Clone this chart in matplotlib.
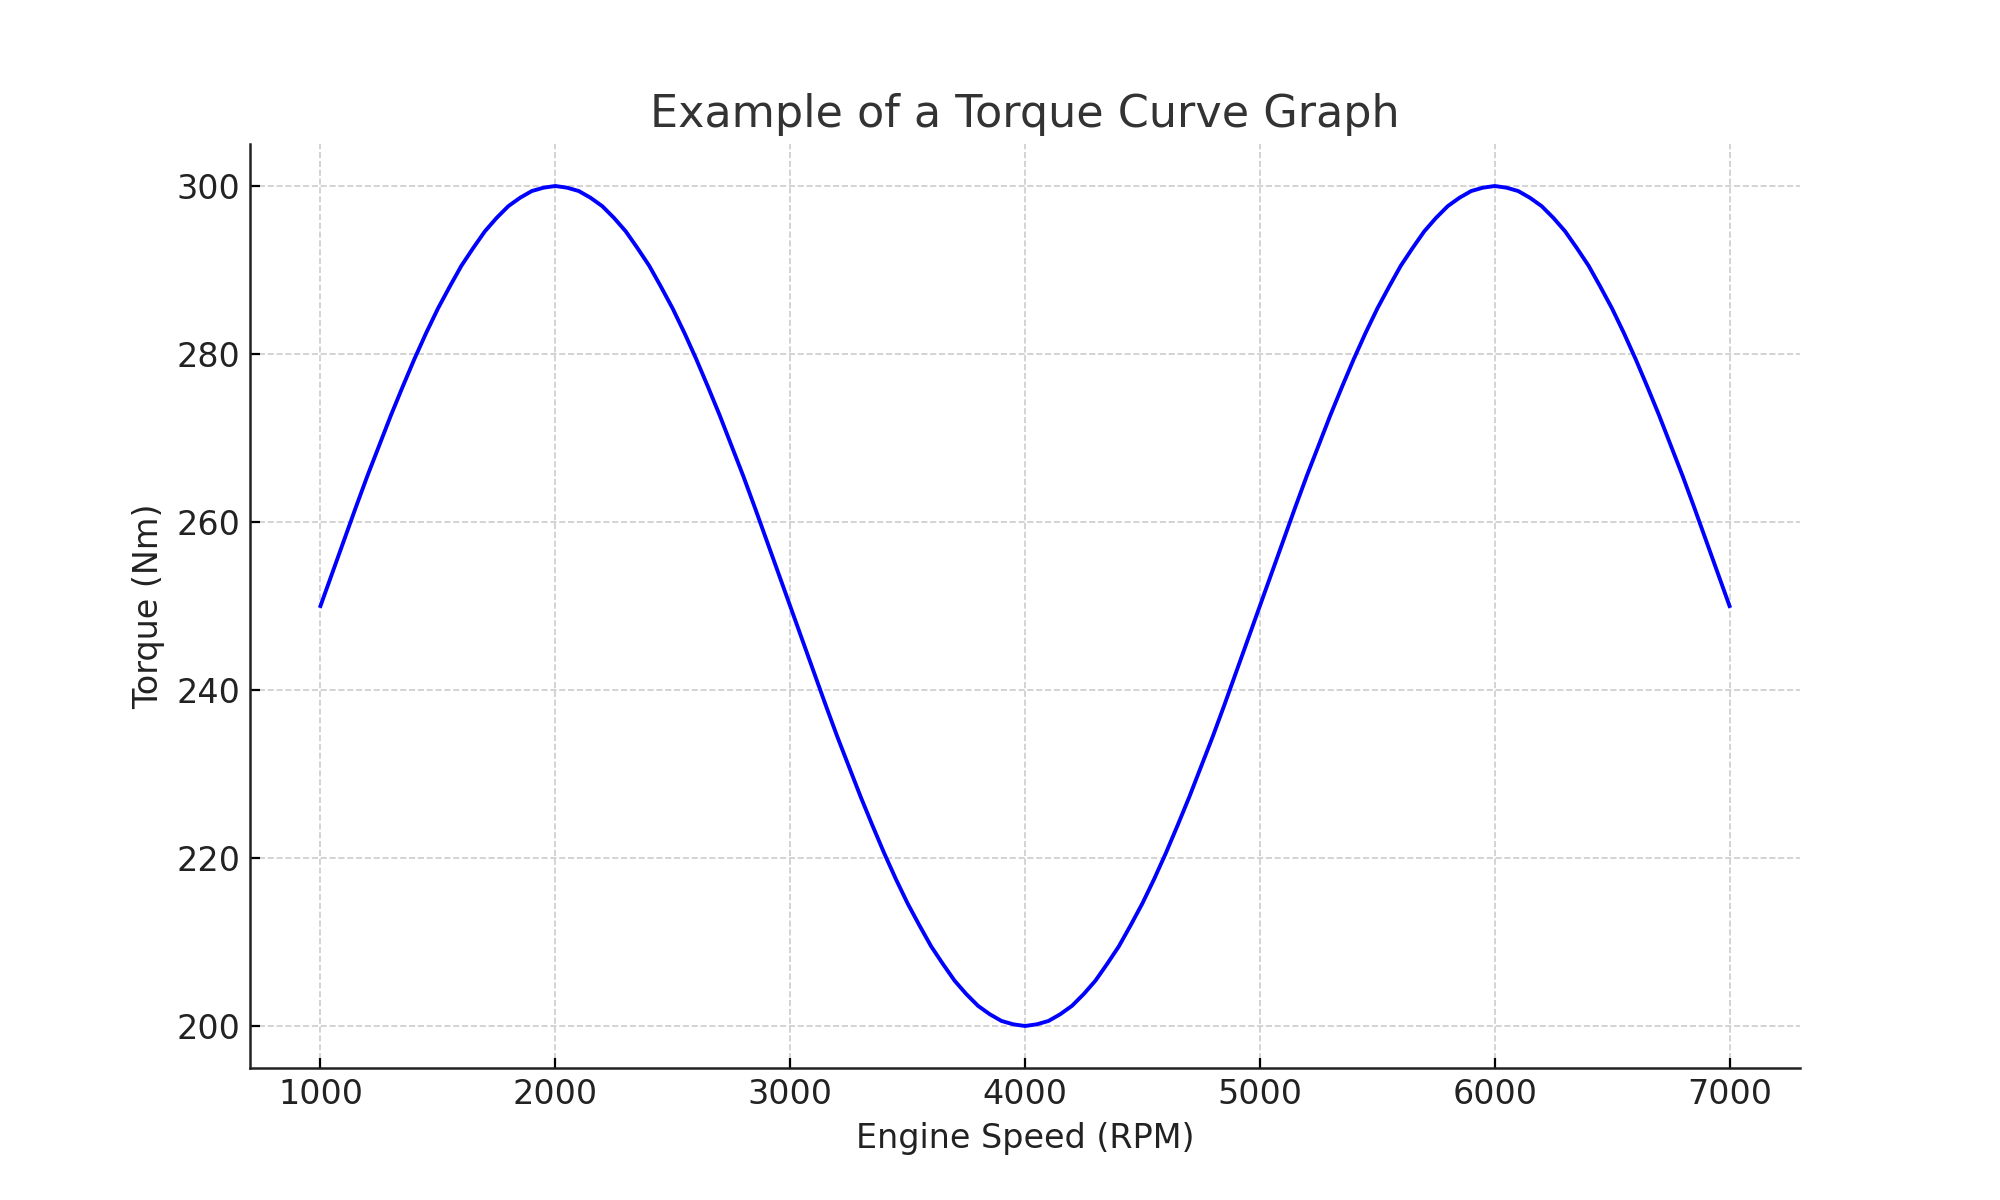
import matplotlib
matplotlib.use("Agg")
import matplotlib.pyplot as plt

# Engine speed (RPM), sampled every 50 RPM along the curve
rpm = list(range(1000, 7001, 50))

# Torque (Nm)
torque = [
    # 1000 - 2000
    250.0, 253.9, 257.8, 261.7, 265.5, 269.1, 272.7, 276.1, 279.4, 282.5,
    285.4, 288.0, 290.5, 292.6, 294.6, 296.2, 297.6, 298.6, 299.4, 299.8,
    300.0,
    # 2050 - 3000
    299.8, 299.4, 298.6, 297.6, 296.2, 294.6, 292.6, 290.5, 288.0, 285.4,
    282.5, 279.4, 276.1, 272.7, 269.1, 265.5, 261.7, 257.8, 253.9, 250.0,
    # 3050 - 4000
    246.1, 242.2, 238.3, 234.5, 230.9, 227.3, 223.9, 220.6, 217.5, 214.6,
    212.0, 209.5, 207.4, 205.4, 203.8, 202.4, 201.4, 200.6, 200.2, 200.0,
    # 4050 - 5000
    200.2, 200.6, 201.4, 202.4, 203.8, 205.4, 207.4, 209.5, 212.0, 214.6,
    217.5, 220.6, 223.9, 227.3, 230.9, 234.5, 238.3, 242.2, 246.1, 250.0,
    # 5050 - 6000
    253.9, 257.8, 261.7, 265.5, 269.1, 272.7, 276.1, 279.4, 282.5, 285.4,
    288.0, 290.5, 292.6, 294.6, 296.2, 297.6, 298.6, 299.4, 299.8, 300.0,
    # 6050 - 7000
    299.8, 299.4, 298.6, 297.6, 296.2, 294.6, 292.6, 290.5, 288.0, 285.4,
    282.5, 279.4, 276.1, 272.7, 269.1, 265.5, 261.7, 257.8, 253.9, 250.0,
]

plt.rcParams['font.family'] = ['DejaVu Sans']

fig, ax = plt.subplots(figsize=(10, 6), dpi=200)
fig.subplots_adjust(left=0.125, right=0.9, bottom=0.11, top=0.88)

ax.plot(rpm, torque, color='blue', linewidth=1.4)

ax.set_title('Example of a Torque Curve Graph', fontsize=16, color='#333333')
ax.set_xlabel('Engine Speed (RPM)', fontsize=12, color='#222222')
ax.set_ylabel('Torque (Nm)', fontsize=12, color='#222222')

ax.grid(True, linestyle='--', color='#cccccc', linewidth=0.6)
ax.tick_params(direction='in', labelsize=12, length=3.5, width=0.8, labelcolor='#222222')
ax.spines['top'].set_visible(False)
ax.spines['right'].set_visible(False)
for s in ('left', 'bottom'):
    ax.spines[s].set_linewidth(0.9)
    ax.spines[s].set_color('#222222')

plt.savefig('out.png', dpi=200)
